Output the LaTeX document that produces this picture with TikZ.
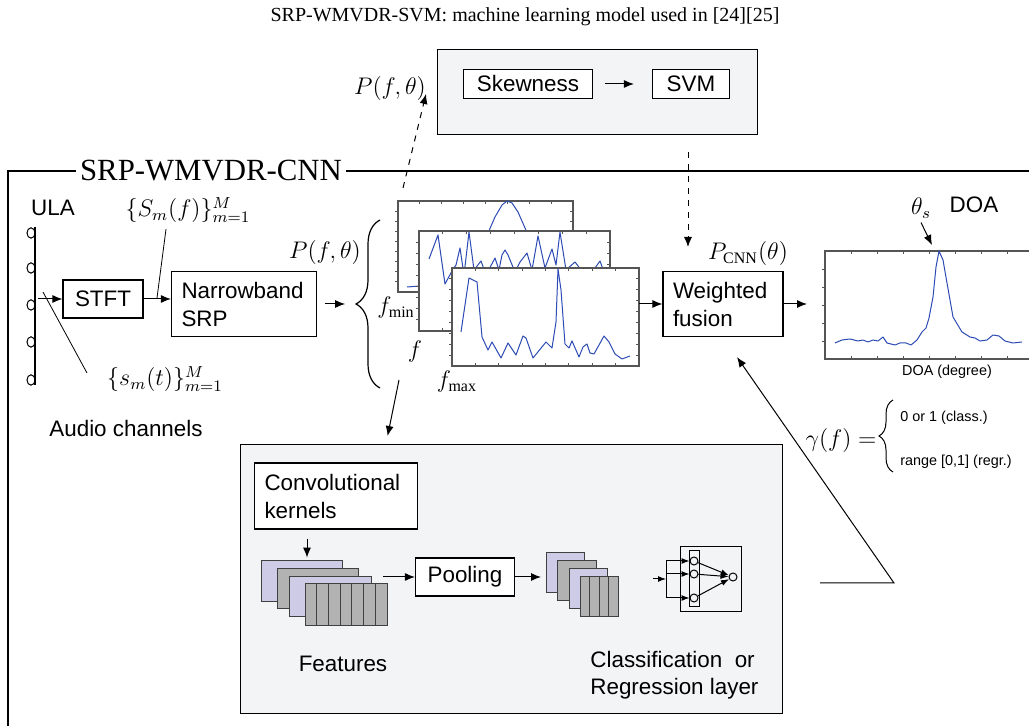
\documentclass[tikz,border=0pt]{standalone}
\usepackage{fontspec}
\setmainfont{Liberation Serif}
\setsansfont{Liberation Sans}
\usetikzlibrary{arrows.meta,decorations.pathreplacing}

\definecolor{boxgray}{RGB}{243,244,246}
\definecolor{mappurple}{RGB}{205,203,230}
\definecolor{mapgray}{RGB}{178,178,178}
\definecolor{specblue}{RGB}{45,75,180}
\definecolor{axisgray}{RGB}{85,85,85}

\tikzset{
  blk/.style={draw, fill=white, inner sep=0pt, line width=0.6pt, font=\sffamily\fontsize{11.2}{14}\selectfont},
  txt/.style={inner sep=0pt, font=\sffamily\fontsize{11.2}{13.5}\selectfont},
  smalltxt/.style={inner sep=0pt, font=\sffamily\fontsize{7.2}{8}\selectfont},
  mth/.style={inner sep=0pt, font=\fontsize{12}{14}\selectfont},
  plotbox/.style={draw=axisgray, line width=0.8pt, fill=white, inner sep=0pt, outer sep=0pt},
  tickmark/.style={draw=axisgray, line width=0.4pt},
  specline/.style={draw=specblue, line width=0.5pt, line join=round},
  fmap/.style={draw=black!75, line width=0.5pt},
  neuron/.style={circle, draw, line width=0.5pt, inner sep=0pt, minimum size=4pt},
  >={Latex[length=5pt,width=4pt]},
}

% framed spectrum panel with ticks: name, x1, y1, x2, y2
\newcommand{\specpanel}[5]{%
  \node[plotbox, anchor=north west, minimum width={(#4-#2)*0.5pt}, minimum height={(#5-#3)*0.5pt}] (#1) at (#2,#3) {};
  \foreach \i in {1,...,7} {
    \draw[tickmark] ({#2+\i*(#4-#2)/8},#3) -- ++(0,3);
    \draw[tickmark] ({#2+\i*(#4-#2)/8},#5) -- ++(0,-3);
  }
  \foreach \i in {1,...,8} {
    \draw[tickmark] (#2,{#3+\i*(#5-#3)/9}) -- ++(-3,0);
    \draw[tickmark] (#4,{#3+\i*(#5-#3)/9}) -- ++(-3,0);
  }
}

\begin{document}
\begin{tikzpicture}[x=0.5pt,y=-0.5pt]
  \clip (0,0) rectangle (1029,726);

  % SVM branch on top
  \node[font=\fontsize{10}{12}\selectfont, inner sep=0pt] (title) at (525,17) {SRP-WMVDR-SVM: machine learning model used in [24][25]};
  \node[draw, fill=boxgray, line width=0.6pt, anchor=north west, minimum width=160pt, minimum height=42.5pt, inner sep=0pt] (svmbox) at (437,49) {};
  \node[blk, minimum width=64.5pt, minimum height=14.5pt] (skew) at (528,84) {Skewness};
  \node[blk, minimum width=38.5pt, minimum height=14.5pt] (svm) at (691,84) {SVM};
  \draw[->, line width=0.5pt] ([xshift=6pt]skew.east) -- ([xshift=-9pt]svm.west);
  \node[mth] (ptop) at (390,89) {$P(f,\theta)$};

  % SRP-WMVDR-CNN frame
  \draw[line width=0.6pt] (8,171) rectangle (1045,745);
  \node[fill=white, inner xsep=2pt, inner ysep=0pt, font=\fontsize{15.4}{18}\selectfont] (cnnlab) at (211,171) {SRP-WMVDR-CNN};

  % microphone array
  \draw[line width=0.8pt] (35,227) -- (35,385);
  \foreach \y in {233,268,305,342,380}
    \draw[line width=0.5pt] (31,\y) ellipse (2pt and 2.6pt);
  \node[txt] (ula) at (53,208) {ULA};
  \node[txt] (audio) at (126,428) {Audio channels};
  \coordinate (arr) at (38,299);
  \node[blk, minimum width=40pt, minimum height=19pt] (stft) at (103,299) {STFT};
  \node[blk, align=left, text width=62.5pt, inner xsep=5pt, minimum height=32.5pt] (srp) at (244,304) {Narrowband\\SRP};
  \draw[->, line width=0.5pt] (arr) -- (stft);
  \draw[->, line width=0.5pt] (stft.east) -- (stft.east -| srp.west);
  \node[mth] (sfreq) at (188,210) {$\{S_m(f)\}_{m=1}^{M}$};
  \node[mth] (stime) at (165,379) {$\{s_m(t)\}_{m=1}^{M}$};
  \coordinate (sfreqend) at (157,298);
  \coordinate (stimebeg) at (43,292);
  \coordinate (stimeend) at (87,373);
  \draw[line width=0.4pt] ([xshift=-11pt,yshift=-3pt]sfreq.south) -- (sfreqend);
  \draw[line width=0.4pt] (stimebeg) -- (stimeend);

  % narrowband spectra
  \node[mth] (pleft) at (325,253) {$P(f,\theta)$};
  \draw[->, line width=0.5pt] ([xshift=4pt]srp.east) -- ++(10pt,0);
  \draw[decorate, decoration={brace, amplitude=12pt}, line width=0.6pt] (380,388) -- (380,220);
  \specpanel{pA}{398}{201}{573}{292}
  \draw[specline] plot coordinates {(407,287) (420,286) (430,281) (445,276) (460,268) (475,255) (485,240) (495,217) (502,205) (507,201) (512,203) (518,212) (525,228) (535,250) (550,272) (565,283)};
  \specpanel{pB}{419}{231}{610}{331}
  \draw[specline] plot coordinates {(429,259) (438,235) (445,284) (452,271) (456,265) (460,248) (464,275) (469,232) (474,270) (481,261) (486,275) (495,258) (499,270) (502,255) (505,250) (508,255) (515,272) (520,262) (527,253) (532,270) (538,236) (545,268) (552,249) (556,265) (560,232) (566,270) (575,262) (585,275) (595,268) (600,261) (605,275)};
  \specpanel{pC}{452}{268}{639}{366}
  \draw[specline] plot coordinates {(461,332) (469,278) (477,282) (482,337) (488,350) (492,342) (501,358) (508,343) (516,355) (523,336) (526,338) (533,358) (546,342) (552,348) (556,322) (558,269) (561,290) (565,344) (569,348) (572,341) (579,357) (583,347) (587,344) (590,353) (594,354) (604,336) (609,342) (615,354) (622,359) (630,356)};
  \node[mth] (fmin) at (396,308) {$f_{\min}$};
  \node[mth] (fmid) at (415,352) {$f$};
  \node[mth] (fmax) at (457,382) {$f_{\max}$};
  \coordinate (pdash) at (403,188);
  \coordinate (ptip) at (426,94);
  \draw[->, dashed, line width=0.5pt] (pdash) -- (ptip);

  % fusion and DOA output
  \node[blk, align=left, text width=50pt, inner xsep=5pt, minimum height=32.5pt] (fusion) at (723,304) {Weighted\\fusion};
  \node[mth] (pcnn) at (748,254) {$P_{\mathrm{CNN}}(\theta)$};
  \draw[->, line width=0.5pt] (fusion.west -| pC.east) -- (fusion.west);
  \coordinate (svmout) at (688,152);
  \coordinate (fusin) at (688,247);
  \draw[->, dashed, line width=0.5pt] (svmout) -- (fusin);
  \node[plotbox, anchor=north west, minimum width=110pt, minimum height=54pt] (doa) at (825,251) {};
  \foreach \i in {1,...,8} {
    \draw[tickmark] (825+26*\i,251) -- ++(0,3);
    \draw[tickmark] (825+26*\i,359) -- ++(0,-3);
  }
  \foreach \j in {1,...,5}
    \draw[tickmark] (825,251+18*\j) -- ++(-3,0);
  \draw[specline] plot coordinates {(835,343) (842,340) (850,339) (858,341) (863,340) (868,342) (873,340) (878,341) (883,337) (887,343) (895,345) (900,343) (906,343) (911,345) (917,340) (922,332) (926,328) (929,318) (933,297) (936,267) (939,251) (943,260) (947,283) (953,317) (962,332) (970,337) (975,338) (980,341) (987,340) (993,335) (999,336) (1005,341) (1013,343) (1022,342)};
  \draw[->, line width=0.5pt] (fusion.east) -- (fusion.east -| 807,0);
  \node[smalltxt] (doalab) at (947,372) {DOA (degree)};
  \node[mth] (thetas) at (921,208) {$\theta_s$};
  \node[txt] (doatxt) at (974,205) {DOA};
  \coordinate (peak) at (932,245);
  \draw[->, line width=0.5pt] ([yshift=-2pt]thetas.south) -- (peak);

  % fusion weights
  \node[mth] (gam) at (841,441) {$\gamma(f) =$};
  \draw[decorate, decoration={brace, amplitude=7pt}, line width=0.5pt] (893,472) -- (893,400);
  \node[smalltxt, anchor=west] (cls) at (900,418) {0 or 1 (class.)};
  \node[smalltxt, anchor=west] (rgr) at (900,462) {range [0,1] (regr.)};

  % CNN
  \node[draw, fill=boxgray, line width=0.6pt, anchor=north west, minimum width=271pt, minimum height=134.5pt, inner sep=0pt] (cnnbox) at (240,444) {};
  \coordinate (stackout) at (399,380);
  \draw[->, line width=0.5pt] (stackout) -- ([xshift=-62pt,yshift=4pt]cnnbox.north);
  \node[blk, align=left, text width=71.5pt, inner xsep=5pt, minimum height=33pt] (conv) at (336,496) {Convolutional\\kernels};
  \draw[->, line width=0.5pt] ([xshift=-14.5pt,yshift=-4.5pt]conv.south) -- ++(0,-9.5pt);
  % feature maps
  \filldraw[fmap, fill=mappurple] (261,561) rectangle (342,602);
  \filldraw[fmap, fill=mapgray] (277,569) rectangle (358,609);
  \filldraw[fmap, fill=mappurple] (289,577) rectangle (371,617);
  \filldraw[fmap, fill=mapgray] (305,584) rectangle (387,626);
  \foreach \k in {1,...,6}
    \draw[fmap] (305+11.7*\k,584) -- (305+11.7*\k,626);
  \node[txt] (feat) at (343,664) {Features};
  \coordinate (featout) at (383,577);
  \node[blk, minimum width=49.5pt, minimum height=19pt] (pool) at (465,577) {Pooling};
  \draw[->, line width=0.5pt] (featout) -- (pool);
  \coordinate (smallin) at (541,577);
  \draw[->, line width=0.5pt] (pool) -- (smallin);
  % pooled maps
  \filldraw[fmap, fill=mappurple] (546,553) rectangle (584,593);
  \filldraw[fmap, fill=mapgray] (557,561) rectangle (596,601);
  \filldraw[fmap, fill=mappurple] (569,569) rectangle (607,609);
  \filldraw[fmap, fill=mapgray] (580,577) rectangle (618,617);
  \foreach \k in {1,...,3}
    \draw[fmap] (580+9.5*\k,577) -- (580+9.5*\k,617);
  % dense layer
  \draw[line width=0.5pt] (680,547) rectangle (741,612);
  \draw[line width=0.5pt] (689,551) rectangle (699,607);
  \node[neuron] (n1) at (694,561) {};
  \node[neuron] (n2) at (694,574) {};
  \node[neuron] (n3) at (694,598) {};
  \node[neuron] (nout) at (733,577) {};
  \coordinate (nnin) at (653,579);
  \coordinate (nnbus) at (666,579);
  \begin{scope}[line width=0.5pt, >={Latex[length=4pt,width=3pt]}]
    \draw[->] (nnin) -- (nnbus);
    \draw (666,561) -- (666,598);
    \foreach \n in {n1,n2,n3}
      \draw[->] (666,0 |- \n) -- (\n.west);
    \foreach \n in {n1,n2,n3}
      \draw[->] (\n) -- (nout);
  \end{scope}
  \node[txt, anchor=west, align=left] (clf) at (590,675) {Classification\ \ or\\Regression layer};
  \coordinate (fbstart) at (820,583);
  \coordinate (fbcorner) at (894,583);
  \draw[->, line width=0.5pt] (fbstart) -- (fbcorner) -- ([xshift=7pt,yshift=-10pt]fusion.south);
\end{tikzpicture}
\end{document}
